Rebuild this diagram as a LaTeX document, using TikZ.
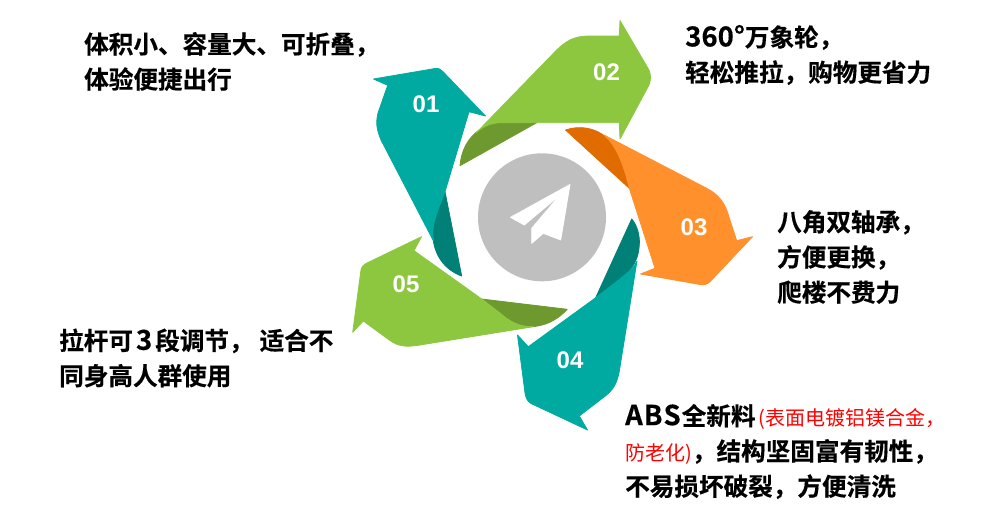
\documentclass[tikz,border=0pt]{standalone}
\usepackage{fontspec}
\setmainfont{Noto Sans CJK SC}[BoldFont={* Bold},BoldFeatures={FakeBold=0.4}]
\newfontfamily\numfont{Liberation Sans}[BoldFont={Liberation Sans Bold}]
\definecolor{tealA}{HTML}{00AAA0}
\definecolor{tealD}{HTML}{008076}
\definecolor{greenA}{HTML}{8DC73F}
\definecolor{greenD}{HTML}{6E992E}
\definecolor{orangeA}{HTML}{FF902B}
\definecolor{orangeD}{HTML}{E06C00}
\definecolor{discgray}{HTML}{BFBFBF}
\tikzset{
  blade/.style={fill=#1,draw=#1,line width=0.8pt,line join=round},
  numlabel/.style={text=white,font=\numfont\bfseries\fontsize{24}{24}\selectfont,inner sep=0pt},
  caption/.style={anchor=west,align=left,inner sep=0pt,font=\bfseries\fontsize{24.6}{35.2}\selectfont}
}
\newcommand{\rednote}[1]{{\mdseries\fontsize{20}{35}\selectfont\textcolor{red}{#1}}}
\newcommand{\biglatin}[1]{{\fontsize{27.5}{35}\selectfont #1}}
\begin{document}
\begin{tikzpicture}[x=1pt,y=-1pt]
\useasboundingbox (0,0) rectangle (993,522);
\fill[white] (0,0) rectangle (993,522);
% disc and plane
\fill[discgray] (542,217.3) circle (64);
\fill[white,draw=white,line width=0.8pt,line join=round] (570,184.5) -- (510.5,217.3) -- (524.3,225) -- (560,195) -- (531.7,228.3) -- (531.7,243.3) -- (543.3,233.3) -- (560.7,240) -- cycle;
% 01
\path[blade=tealD] (445,191.7) -- (461.7,276) .. controls (445,270) and (433,255) .. (432.7,233) .. controls (433,220) and (440,205) .. cycle;
\path[blade=tealA] (373.5,79) -- (435,68.5) .. controls (439,68) and (441,69.5) .. (443,71.7) -- (485.5,116) -- (469,111.7) -- (445,191.7) .. controls (440,205) and (433,220) .. (432.7,233) -- (433.5,241) -- (381,140) .. controls (376,128) and (376,122) .. (378,113) -- (387.7,85.3) -- cycle;
% 02
\path[blade=greenD] (460,165.7) -- (536.7,122.7) -- (500,122.7) .. controls (480,124) and (462,140) .. cycle;
\path[blade=greenA] (620,20.5) -- (649,70) .. controls (651,75) and (651,80) .. (649,85) -- (620,139) -- (619.3,122.7) -- (536.7,122.7) -- (500,122.7) .. controls (490,123) and (482,127) .. (476,133) -- (556.7,50) .. controls (567,40) and (575,36) .. (590,36) -- (619.3,36) -- cycle;
% 03
\path[blade=orangeD] (565.5,130) .. controls (580,125) and (595,128) .. (606,137) .. controls (618,148) and (625,170) .. (629.3,188.3) -- cycle;
\path[blade=orangeA] (604,135) -- (706.7,188.3) .. controls (718,194) and (725,203) .. (728,214) -- (736.7,240.7) -- (752.5,236.7) -- (710,281.7) .. controls (707,284.5) and (704,285) .. (700,284.5) -- (640.5,274) -- (655,268.3) -- (629.3,188.3) .. controls (625,170) and (618,148) .. (606,137) -- cycle;
% 04
\path[blade=tealD] (631.7,219) .. controls (637,225) and (640,235) .. (639.3,245) .. controls (638,265) and (628,272) .. (620,279) -- (595.7,297.7) -- cycle;
\path[blade=tealA] (637,261) -- (619.5,370) .. controls (617,385) and (612,391) .. (604,397) -- (579.3,416) -- (587.5,430) -- (531,403.5) .. controls (527,401) and (526,398) .. (525,393) -- (517.5,335) -- (528.3,346.7) -- (595.7,297.7) -- (620,279) .. controls (628,272) and (634,268) .. cycle;
% 05
\path[blade=greenD] (481.7,299) -- (567.3,309.3) .. controls (555,322) and (545,325) .. (533.3,326.7) .. controls (520,327) and (510,322) .. (500,313) -- cycle;
\path[blade=greenA] (421.5,236.7) -- (414,250.7) -- (481.7,299) -- (500,313) .. controls (510,322) and (520,327) .. (533.3,326.7) -- (420,345) .. controls (405,347.5) and (398,346) .. (390,340.5) -- (363.3,321) -- (352.7,332.3) -- (360.7,272) .. controls (361,267) and (363,265) .. (367,263) -- cycle;
% numbers
\node[numlabel] (n1) at (426,104.5) {01};
\node[numlabel] (n2) at (606.5,72) {02};
\node[numlabel] (n3) at (694,227) {03};
\node[numlabel] (n4) at (570,360.5) {04};
\node[numlabel] (n5) at (406,284.5) {05};
% captions
\node[caption] (c1) at (84,61.5) {体积小、容量大、可折叠，\\体验便捷出行};
\node[caption] (c2) at (685,55) {\biglatin{360°}万象轮，\\轻松推拉，购物更省力};
\node[caption] (c3) at (777,257) {八角双轴承，\\方便更换，\\爬楼不费力};
\node[caption] (c4) at (625,451.5) {\biglatin{A\kern1pt B\kern1pt S}\kern1pt 全新料\kern3pt\rednote{(表面电镀铝镁合金，}\\\rednote{防老化)}，结构坚固富有韧性，\\不易损坏破裂，方便清洗};
\node[caption] (c5) at (59,358) {拉杆可\kern3pt\biglatin{3}\kern3pt 段调节，\kern6pt 适合不\\同身高人群使用};
\end{tikzpicture}
\end{document}
